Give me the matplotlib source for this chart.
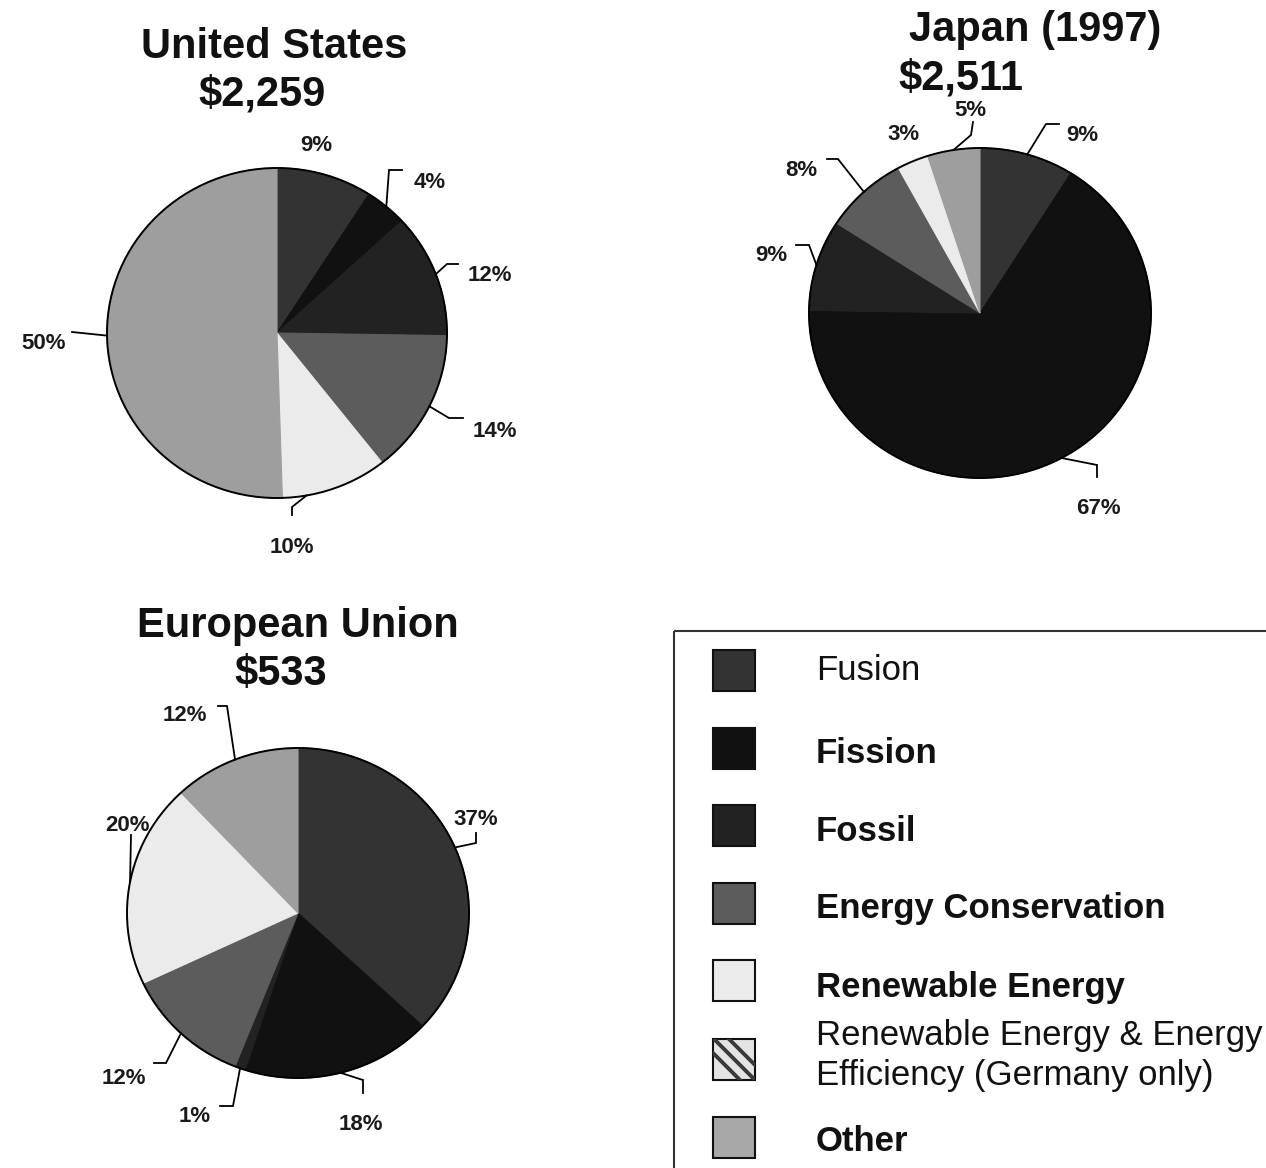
import matplotlib
matplotlib.use('Agg')
import matplotlib.pyplot as plt
from matplotlib.patches import Rectangle, Ellipse
import numpy as np

plt.rcParams['font.family'] = ['Liberation Sans', 'DejaVu Sans']

# ---------------- data ----------------
categories = ['Fusion', 'Fission', 'Fossil', 'Energy Conservation',
              'Renewable Energy', 'Other']
us_values = [9, 4, 12, 14, 10, 50]
japan_values = [9, 67, 9, 8, 3, 5]
eu_values = [37, 18, 1, 12, 20, 12]

chart_titles = ['United States', 'Japan (1997)', 'European Union']
chart_totals = ['$2,259', '$2,511', '$533']

legend_labels = ['Fusion', 'Fission', 'Fossil', 'Energy Conservation',
                 'Renewable Energy',
                 'Renewable Energy & Energy\nEfficiency (Germany only)',
                 'Other']
legend_bold = [False, True, True, True, True, False, True]

# ---------------- styles ----------------
cat_colors = ['#333333', '#111111', '#222222', '#5c5c5c', '#ebebeb', '#9e9e9e']
legend_colors = ['#333333', '#111111', '#222222', '#5c5c5c', '#ebebeb',
                 '#e4e4e4', '#a8a8a8']
legend_striped = [False, False, False, False, False, True, False]

W, H = 1266, 1168

# ---------------- layout (pixels) ----------------
pie_layout = [
    dict(center=(277, 333), radii=(170, 165),
         title_xy=(274, 58), total_xy=(262, 105),
         text_xy=[(316, 151), (430, 188), (490, 281), (495, 437), (292, 553), (44, 349)],
         leader=[None, [(389, 170), (402, 170)], [(447, 264), (458, 264)],
                 [(449, 418), (463, 418)], [(292, 507), (292, 515)], [(72, 332)]],
         angle_offset=[0, 0, 0, 0, 10, 0]),
    dict(center=(980, 313), radii=(171, 165),
         title_xy=(1035, 41), total_xy=(961, 89),
         text_xy=[(1082, 141), (1098, 514), (771, 261), (801, 176), (904, 140), (970, 116)],
         leader=[[(1046, 124), (1059, 124)], [(1097, 465), (1097, 477)],
                 [(809, 245), (796, 245)], [(838, 159), (827, 159)], None,
                 [(971, 135), (973, 122)]],
         angle_offset=[0, 0, 0, 0, 0, 0]),
    dict(center=(298, 913), radii=(171, 165),
         title_xy=(298, 637), total_xy=(281, 685),
         text_xy=[(476, 825), (361, 1130), (195, 1122), (124, 1084), (127, 831), (185, 721)],
         leader=[[(476, 843), (476, 833)], [(363, 1080), (363, 1093)],
                 [(233, 1106), (220, 1106)], [(166, 1063), (154, 1063)],
                 [(131, 835)], [(227, 706), (218, 706)]],
         angle_offset=[0, 0, 0, 0, 0, 0]),
]

legend_box = (674, 631)
legend_swatch_x = 713
legend_swatch_size = (42, 41)
legend_swatch_cy = [670, 748, 825, 903, 980, 1059, 1137]
legend_text_x = 816
legend_text_base = [[680], [763], [841], [918], [997], [1045, 1085], [1151]]
stripe_offsets = [-15, 0, 15]

fig = plt.figure(figsize=(W / 100, H / 100), dpi=100)

all_values = [us_values, japan_values, eu_values]

for values, lay in zip(all_values, pie_layout):
    cx, cy = lay['center']
    rx, ry = lay['radii']
    ax = fig.add_axes([(cx - rx) / W, 1 - (cy + ry) / H, 2 * rx / W, 2 * ry / H])
    wedges, _ = ax.pie(values, colors=cat_colors, startangle=90,
                       counterclock=False, radius=1,
                       wedgeprops=dict(linewidth=0.8))
    for w in wedges:
        w.set_edgecolor(w.get_facecolor())
    ax.set_aspect('auto')
    ax.set_xlim(-1, 1)
    ax.set_ylim(-1, 1)
    ax.add_patch(Ellipse((0, 0), 2, 2, fill=False, ec='black', lw=1.4, clip_on=False))
    ax.axis('off')

# overlay in pixel coordinates
ov = fig.add_axes([0, 0, 1, 1])
ov.set_xlim(0, W)
ov.set_ylim(H, 0)
ov.axis('off')

for values, lay, title, total in zip(all_values, pie_layout, chart_titles, chart_totals):
    cx, cy = lay['center']
    rx, ry = lay['radii']
    ov.text(*lay['title_xy'], title, ha='center', va='baseline',
            fontsize=30, fontweight='bold', color='#111111')
    ov.text(*lay['total_xy'], total, ha='center', va='baseline',
            fontsize=30, fontweight='bold', color='#111111')
    tot = float(sum(values))
    cum = np.concatenate([[0], np.cumsum(values)])
    for i, v in enumerate(values):
        phi = np.deg2rad((cum[i] + v / 2) / tot * 360 + lay['angle_offset'][i])
        sx = cx + rx * np.sin(phi)
        sy = cy - ry * np.cos(phi)
        pts = lay['leader'][i]
        if pts:
            xs = [sx] + [p[0] for p in pts]
            ys = [sy] + [p[1] for p in pts]
            ov.plot(xs, ys, color='black', lw=1.3, solid_joinstyle='miter')
        tx, ty = lay['text_xy'][i]
        ov.text(tx, ty, f'{v}%', ha='center', va='baseline',
                fontsize=16, fontweight='bold', color='#1a1a1a')

# legend
ov.add_patch(Rectangle(legend_box, 800, 800, fill=False, ec='#333333', lw=1.5))
sw, sh = legend_swatch_size
for lab, bold, col, striped, scy, bases in zip(legend_labels, legend_bold, legend_colors,
                                              legend_striped, legend_swatch_cy,
                                              legend_text_base):
    x0, y0 = legend_swatch_x, scy - sh / 2
    rect = Rectangle((x0, y0), sw, sh, facecolor=col, edgecolor='none')
    ov.add_patch(rect)
    if striped:
        mx, my = x0 + sw / 2, y0 + sh / 2
        for off in stripe_offsets:
            ln, = ov.plot([mx - 40 + off, mx + 40 + off], [my - 40, my + 40],
                          color='#3a3a3a', lw=2.8, solid_capstyle='butt')
            ln.set_clip_path(rect)
    ov.add_patch(Rectangle((x0, y0), sw, sh, fill=False, edgecolor='#111111', lw=1.5))
    for line, b in zip(lab.split('\n'), bases):
        ov.text(legend_text_x, b, line, ha='left', va='baseline', fontsize=25,
                fontweight='bold' if bold else 'normal', color='#111111')

fig.savefig('out.png', dpi=100)
